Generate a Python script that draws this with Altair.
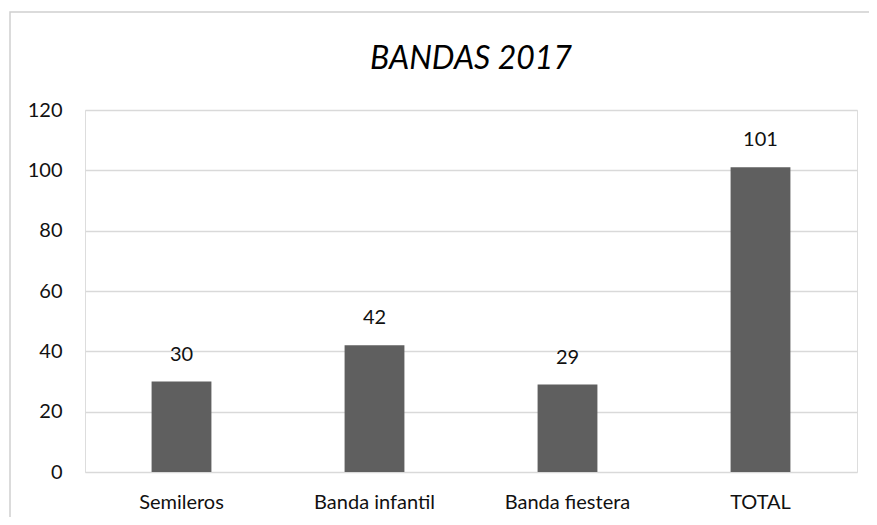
import altair as alt
import pandas as pd

categories = ["Semileros", "Banda infantil", "Banda fiestera", "TOTAL"]
values = [30, 42, 29, 101]
y_ticks = [0, 20, 40, 60, 80, 100, 120]

df = pd.DataFrame({"cat": categories, "val": values})

FONT = "Lato"
TXT = "#111111"

x_enc = alt.X("cat:N", sort=categories,
              scale=alt.Scale(paddingInner=0.69, paddingOuter=0.345),
              axis=alt.Axis(title=None, labelAngle=0, domain=False, ticks=False,
                            labelPadding=20, labelFontSize=20, labelColor=TXT,
                            labelFont=FONT))
y_enc = alt.Y("val:Q", scale=alt.Scale(domain=[0, 120], nice=False),
              axis=alt.Axis(title=None, values=y_ticks, domain=False, ticks=False,
                            labelPadding=23, labelFontSize=20, labelColor=TXT,
                            labelFont=FONT, gridColor="#d9d9d9", gridWidth=1.3))

bars = alt.Chart(df).mark_bar(color="#5f5f5f").encode(x=x_enc, y=y_enc)
text = alt.Chart(df).mark_text(dy=-27, baseline="middle", fontSize=20, font=FONT,
                               color=TXT).encode(
    x=alt.X("cat:N", sort=categories), y="val:Q", text="val:Q")

border = alt.Chart(pd.DataFrame({"a": [0]})).mark_rect(
    fill=None, stroke="#d0d0d0", strokeWidth=1.5).encode(
    x=alt.value(-75), x2=alt.value(800), y=alt.value(-98), y2=alt.value(420))

chart = alt.layer(border, bars, text).properties(
    width=772, height=362,
    title=alt.TitleParams("BANDAS 2017", fontSize=32, font=FONT, fontStyle="italic",
                          fontWeight="normal", color="#000000", offset=0, dy=90,
                          baseline="alphabetic", anchor="middle", frame="group"),
    autosize=alt.AutoSizeParams(type="none"),
    padding={"left": 77, "top": 102, "right": 12, "bottom": 45},
).configure_view(stroke=None).configure(background="white")

chart.save("out.html", embed_options={"renderer": "svg", "actions": False})
